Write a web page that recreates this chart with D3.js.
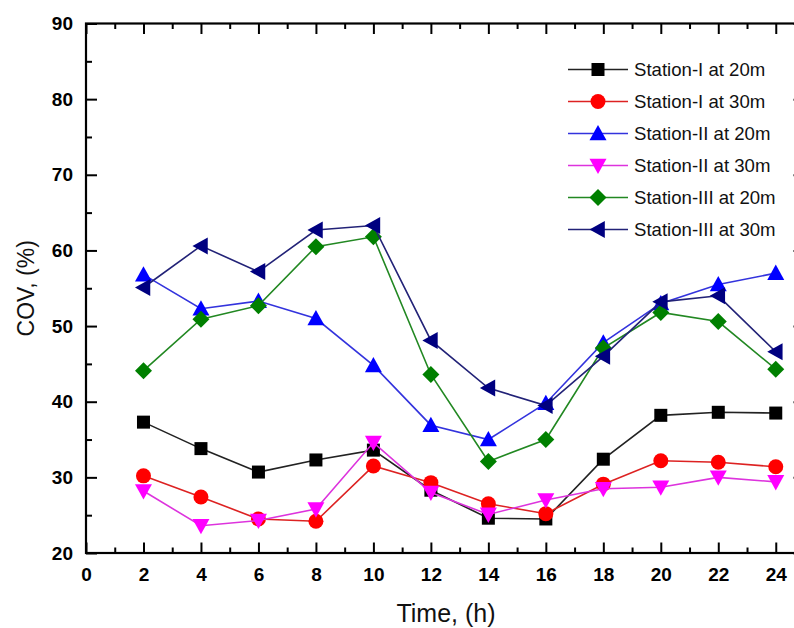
<!DOCTYPE html>
<html><head><meta charset="utf-8">
<script src="https://cdn.jsdelivr.net/npm/d3@7"></script>
<style>body{margin:0;background:#fff}svg{display:block}</style>
</head><body>
<script>
const hours = [2,4,6,8,10,12,14,16,18,20,22,24];
const s1_20 = [37.3,33.8,30.7,32.3,33.6,28.3,24.6,24.5,32.4,38.2,38.6,38.5];
const s1_30 = [30.2,27.4,24.5,24.2,31.5,29.3,26.5,25.2,29.1,32.2,32.0,31.4];
const s2_20 = [56.8,52.3,53.3,51.0,44.8,36.9,35.0,39.8,47.8,53.0,55.5,57.0];
const s2_30 = [28.2,23.6,24.3,25.8,34.6,28.0,25.1,27.0,28.5,28.7,30.0,29.4];
const s3_20 = [44.1,50.9,52.7,60.5,61.8,43.6,32.1,35.0,47.1,51.8,50.6,44.3];
const s3_30 = [55.1,60.6,57.2,62.7,63.3,48.1,41.8,39.5,46.0,53.2,54.0,46.6];
const seriesNames = ["Station-I at 20m","Station-I at 30m","Station-II at 20m","Station-II at 30m","Station-III at 20m","Station-III at 30m"];
const xTicks = [0,2,4,6,8,10,12,14,16,18,20,22,24];
const yTicks = [20,30,40,50,60,70,80,90];
const xTitle = "Time, (h)";
const yTitle = "COV, (%)";

const seriesData = [s1_20,s1_30,s2_20,s2_30,s3_20,s3_30];
const colors = ["#000000","#ff0000","#0000ff","#ff00ff","#008000","#000080"];
const lineColors = ["#222222","#dd2222","#3333dd","#dd33dd","#228822","#222277"];
const shapes = ["square","circle","up","down","diamond","left"];

const W = 794, H = 628;
const pLeft = 86, pTop = 23.5, pBottom = 553;
const x = d3.scaleLinear().domain([0,25]).range([pLeft, pLeft + 25*28.74]);
const y = d3.scaleLinear().domain([20,90]).range([pBottom, pTop]);
const FONT = "Liberation Sans, Arial, sans-serif";

const svg = d3.select("body").append("svg").attr("width",W).attr("height",H);

function marker(g, shape, cx, cy, color){
  if(shape==="square"){
    g.append("rect").attr("x",cx-6.5).attr("y",cy-6.5).attr("width",13).attr("height",13).attr("fill",color);
  } else if(shape==="circle"){
    g.append("circle").attr("cx",cx).attr("cy",cy).attr("r",7.5).attr("fill",color);
  } else {
    const s = 8.5;
    let pts;
    if(shape==="up") pts=[[0,-s],[s,s*0.8],[-s,s*0.8]];
    else if(shape==="down") pts=[[0,s],[s,-s*0.8],[-s,-s*0.8]];
    else if(shape==="left") pts=[[-s,0],[s*0.8,-s],[s*0.8,s]];
    else pts=[[0,-8.5],[8.5,0],[0,8.5],[-8.5,0]];
    g.append("path").attr("d","M"+pts.map(p=>[cx+p[0],cy+p[1]].join(",")).join("L")+"Z").attr("fill",color);
  }
}

seriesData.forEach((vals,i)=>{
  const pts = hours.map((h,j)=>[h,vals[j]]);
  const g = svg.append("g");
  g.append("path").datum(pts)
    .attr("d", d3.line().x(d=>x(d[0])).y(d=>y(d[1])))
    .attr("fill","none").attr("stroke",lineColors[i]).attr("stroke-width",1.6);
  pts.forEach(p=>marker(g, shapes[i], x(p[0]), y(p[1]), colors[i]));
});

const axG = svg.append("g").attr("font-family",FONT);
const xMajor = xTicks, xMinor = d3.range(1,26,2);
const yMinor = d3.range(25,90,10);
const bAxis = d3.axisBottom(x).tickValues(xMajor).tickSize(-10.5).tickPadding(20).tickFormat(d3.format("d"));
const bg = axG.append("g").attr("transform",`translate(0,${pBottom})`).call(bAxis);
bg.selectAll(".tick text").attr("font-size",19).attr("font-weight","bold").attr("fill","#000").attr("dy","0.4em");
axG.append("g").attr("transform",`translate(0,${pBottom})`).call(d3.axisBottom(x).tickValues(xMinor).tickSize(-5.5).tickFormat(""));
axG.append("g").attr("transform",`translate(0,${pTop})`).call(d3.axisTop(x).tickValues(xMajor).tickSize(-10.5).tickFormat(""));
axG.append("g").attr("transform",`translate(0,${pTop})`).call(d3.axisTop(x).tickValues(xMinor).tickSize(-5.5).tickFormat(""));
const lAxis = d3.axisLeft(y).tickValues(yTicks).tickSize(-11).tickPadding(13).tickFormat(d3.format("d"));
const lg = axG.append("g").attr("transform",`translate(${pLeft},0)`).call(lAxis);
lg.selectAll(".tick text").attr("font-size",19).attr("font-weight","bold").attr("fill","#000");
axG.append("g").attr("transform",`translate(${pLeft},0)`).call(d3.axisLeft(y).tickValues(yMinor).tickSize(-6).tickFormat(""));
const rx = x(25);
axG.append("g").attr("transform",`translate(${rx},0)`).call(d3.axisRight(y).tickValues(yTicks).tickSize(-11).tickFormat(""));
axG.append("g").attr("transform",`translate(${rx},0)`).call(d3.axisRight(y).tickValues(yMinor).tickSize(-6).tickFormat(""));
axG.selectAll(".domain").remove();
axG.selectAll(".tick line").attr("stroke","#000").attr("stroke-width",2);
axG.append("rect").attr("x",pLeft).attr("y",pTop).attr("width",rx-pLeft).attr("height",pBottom-pTop)
  .attr("fill","none").attr("stroke","#000").attr("stroke-width",2.2);

svg.append("text").attr("x",446).attr("y",622).attr("text-anchor","middle")
  .attr("font-family",FONT).attr("font-size",25).attr("fill","#111").text(xTitle);
svg.append("text").attr("transform",`translate(34,${(pTop+pBottom)/2}) rotate(-90)`).attr("text-anchor","middle")
  .attr("font-family",FONT).attr("font-size",23).attr("fill","#111").text(yTitle);

const lgY0 = 69.5, lgDy = 32;
seriesNames.forEach((name,i)=>{
  const g = svg.append("g");
  const yy = lgY0 + i*lgDy;
  g.append("line").attr("x1",568).attr("x2",628).attr("y1",yy).attr("y2",yy).attr("stroke",lineColors[i]).attr("stroke-width",1.6);
  marker(g, shapes[i], 598, yy, colors[i]);
  g.append("text").attr("x",634).attr("y",yy).attr("dy","0.36em")
    .attr("font-family",FONT).attr("font-size",18.6).attr("fill","#111").text(name);
});
</script>
</body></html>
